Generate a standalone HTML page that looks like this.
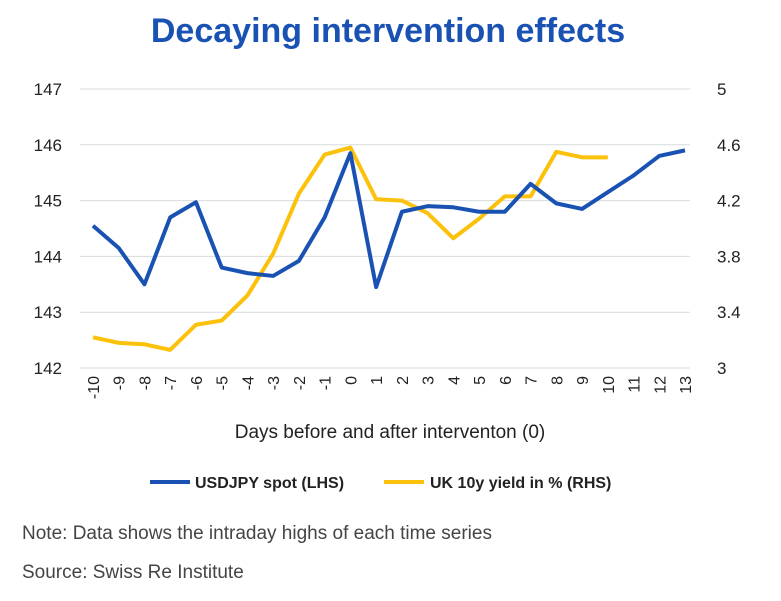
<!DOCTYPE html>
<html><head><meta charset="utf-8"><style>
body{margin:0;background:#fff;font-family:"Liberation Sans",sans-serif;}
svg text{font-family:"Liberation Sans",sans-serif;}
</style></head><body>
<svg width="781" height="596">
<text x="388" y="42" text-anchor="middle" font-size="34" font-weight="bold" fill="#1a52b3">Decaying intervention effects</text>
<g id="grid"></g>
<g id="lt"></g>
<g id="rt"></g>
<g id="xt"></g>
<g id="series"></g>
<text x="390" y="438" text-anchor="middle" font-size="19" fill="#222">Days before and after interventon (0)</text>
<g>
<line x1="150" y1="482" x2="190" y2="482" stroke="#1a52b3" stroke-width="4"/>
<text x="195" y="488" font-size="16" font-weight="bold" fill="#222">USDJPY spot (LHS)</text></g>
<g>
<line x1="384" y1="482" x2="424" y2="482" stroke="#fcc10a" stroke-width="4"/>
<text x="430" y="488" font-size="16" font-weight="bold" fill="#222">UK 10y yield in % (RHS)</text></g>
<text x="22" y="539" font-size="19" fill="#444">Note: Data shows the intraday highs of each time series</text>
<text x="22" y="578" font-size="19" fill="#444">Source: Swiss Re Institute</text>
</svg>
<script>
const days=[-10,-9,-8,-7,-6,-5,-4,-3,-2,-1,0,1,2,3,4,5,6,7,8,9,10,11,12,13];
const usdjpy=[144.55,144.15,143.5,144.7,144.97,143.8,143.7,143.65,143.92,144.7,145.85,143.45,144.8,144.9,144.88,144.8,144.8,145.3,144.95,144.85,145.15,145.45,145.8,145.9];
const ukYield=[3.22,3.18,3.17,3.13,3.31,3.34,3.52,3.82,4.25,4.53,4.58,4.21,4.2,4.11,3.93,4.07,4.23,4.23,4.55,4.51,4.51];
const leftTicks=[142,143,144,145,146,147];
const rightTicks=["3","3.4","3.8","4.2","4.6","5"];
const NS="http://www.w3.org/2000/svg";
const x0=93,dx=(685-93)/23,yTop=89,yBot=368;
const X=i=>x0+i*dx;
const YL=v=>yBot-(v-142)/5*(yBot-yTop);
const YR=v=>yBot-(v-3)/2*(yBot-yTop);
function mk(t,a,p){const e=document.createElementNS(NS,t);for(const k in a)e.setAttribute(k,a[k]);p.appendChild(e);return e;}
const grid=document.getElementById('grid'),lt=document.getElementById('lt'),rt=document.getElementById('rt'),xt=document.getElementById('xt'),ser=document.getElementById('series');
leftTicks.forEach((v,i)=>{const y=YL(v);
const g=mk('line',{x1:80,x2:690,y1:y,y2:y,stroke:'#d8dcdc','stroke-width':1},grid);


const t=mk('text',{x:62,y:y+6,'text-anchor':'end','font-size':17,fill:'#222'},lt);t.textContent=v;


const r=mk('text',{x:717,y:YR(+rightTicks[i])+6,'font-size':17,fill:'#222'},rt);r.textContent=rightTicks[i];

});
days.forEach((d,i)=>{const t=mk('text',{transform:`translate(${X(i)+6},376) rotate(-90)`,'text-anchor':'end','font-size':16,fill:'#222'},xt);t.textContent=d;

});
const py=mk('polyline',{points:ukYield.map((v,i)=>X(i)+','+YR(v)).join(' '),fill:'none',stroke:'#fcc10a','stroke-width':4,'stroke-linejoin':'round'},ser);


const pb=mk('polyline',{points:usdjpy.map((v,i)=>X(i)+','+YL(v)).join(' '),fill:'none',stroke:'#1a52b3','stroke-width':4,'stroke-linejoin':'round'},ser);


</script>
</body></html>
